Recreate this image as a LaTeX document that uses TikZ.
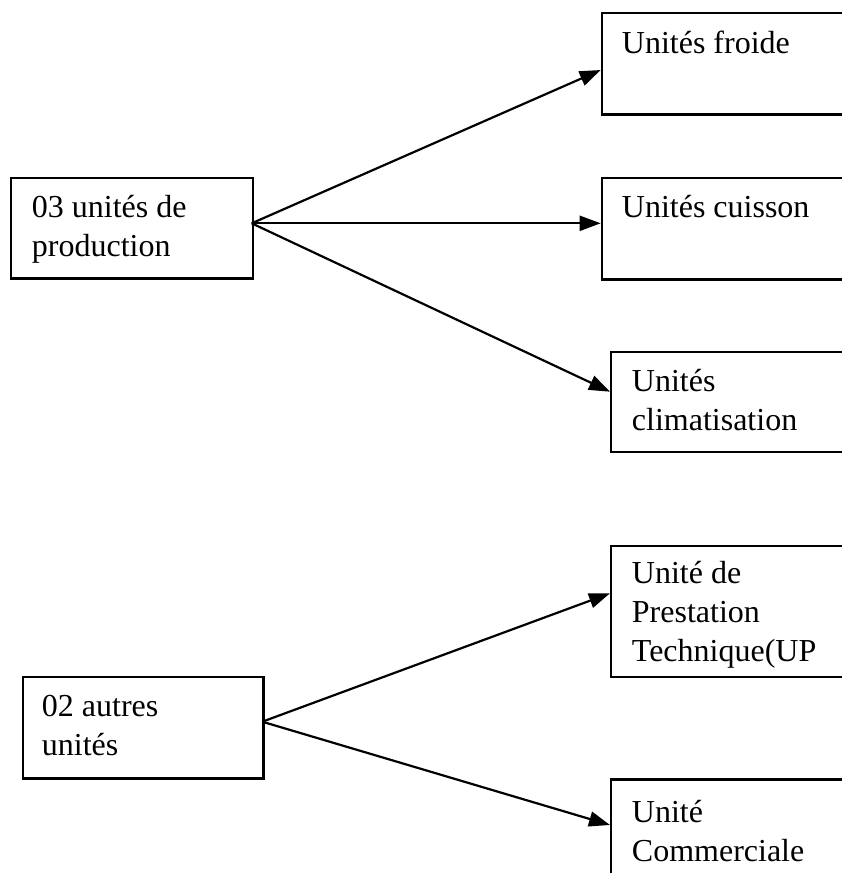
\documentclass[tikz,border=0pt]{standalone}
\usepackage{fontspec}
\setmainfont{Liberation Serif}
\usetikzlibrary{arrows.meta}
\begin{document}
\begin{tikzpicture}[x=1pt,y=-1pt,
  box/.style={draw,line width=2.2pt,rectangle,inner sep=0pt,anchor=north west},
  txt/.style={inner sep=0pt,anchor=base west,align=left,font=\fontsize{32}{39}\selectfont},
  arr/.style={line width=2.2pt,-{Triangle[length=21pt,width=15pt]}}]
\useasboundingbox (0,0) rectangle (841,873);
% boxes
\node[box,minimum width=241.7pt,minimum height=100.6pt] (prod) at (10,176.7) {};
\node[box,minimum width=249.3pt,minimum height=101.6pt] (froide) at (600.7,11.7) {};
\node[box,minimum width=249.3pt,minimum height=101.6pt] (cuisson) at (600.7,176.7) {};
\node[box,minimum width=240pt,minimum height=100pt] (clim) at (610,350.7) {};
\node[box,minimum width=240.6pt,minimum height=101.3pt] (autres) at (21.7,676) {};
\node[box,minimum width=240pt,minimum height=130.7pt] (up) at (610,545) {};
\node[box,minimum width=240pt,minimum height=111.7pt] (comm) at (610,778.3) {};
% texts (base anchor = baseline of the last line)
\node[txt] (prodT) at (31.7,256.7) {03 unités de\\production};
\node[txt] (froideT) at (621.7,53) {Unités froide};
\node[txt] (cuissonT) at (621.7,217.3) {Unités cuisson};
\node[txt] (climT) at (631.7,430) {Unités\\climatisation};
\node[txt] (autresT) at (41.7,755) {02 autres\\unités};
\node[txt] (upT) at (631.7,661.7) {Unité de\\Prestation\\Technique(UP};
\node[txt] (commT) at (631.7,861.7) {Unité\\Commerciale};
% connector end points
\coordinate (prodOut) at (251.7,223.3);
\coordinate (autresOut) at (262.3,721.7);
\coordinate (froideIn) at (600.7,70);
\coordinate (cuissonIn) at (600.7,223.3);
\coordinate (climIn) at (610,391.7);
\coordinate (upIn) at (610,593.3);
\coordinate (commIn) at (610,825);
% connectors
\draw[arr] (prodOut) -- (froideIn);
\draw[arr] (prodOut) -- (cuissonIn);
\draw[arr] (prodOut) -- (climIn);
\draw[arr] (autresOut) -- (upIn);
\draw[arr] (autresOut) -- (commIn);
\end{tikzpicture}
\end{document}
